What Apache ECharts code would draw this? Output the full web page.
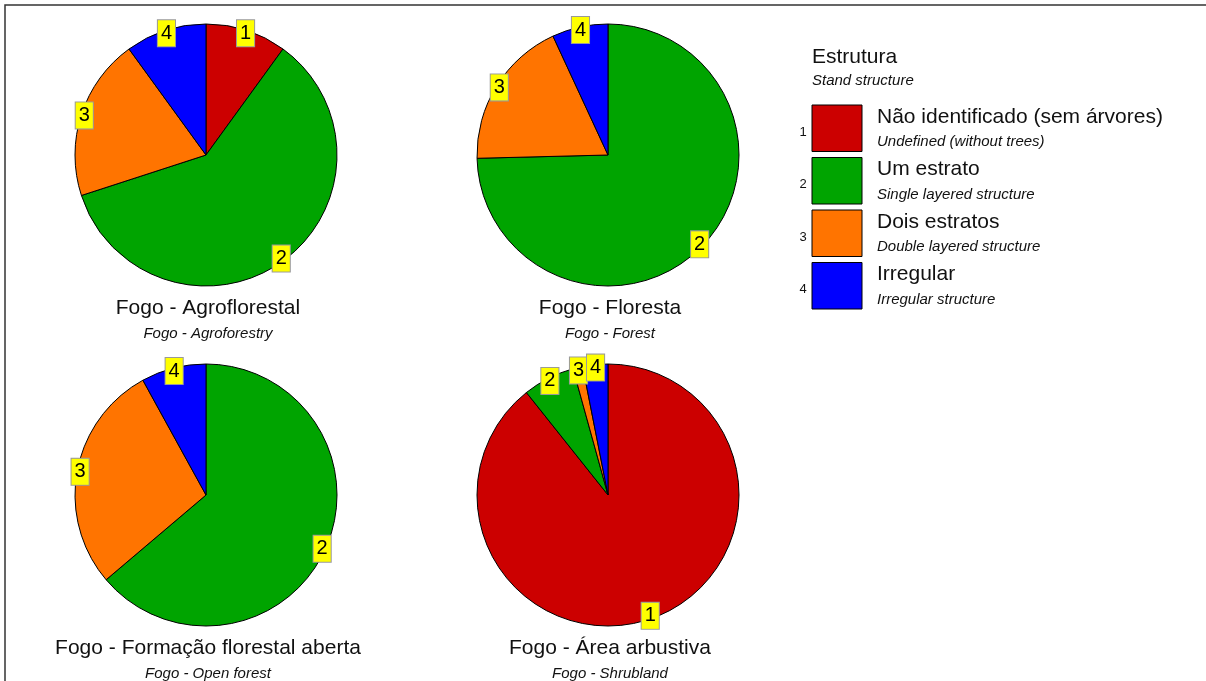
<!DOCTYPE html>
<html>
<head>
<meta charset="utf-8">
<script src="https://cdn.jsdelivr.net/npm/echarts@6/dist/echarts.min.js"></script>
<style>
html,body{margin:0;padding:0;background:#fff;}
#main{width:1206px;height:681px;}
</style>
</head>
<body>
<div id="main"></div>
<script>
// ---- data ----
var categories = ['1', '2', '3', '4'];
var legendNames = ['Não identificado (sem árvores)', 'Um estrato', 'Dois estratos', 'Irregular'];
var legendNamesEn = ['Undefined (without trees)', 'Single layered structure', 'Double layered structure', 'Irregular structure'];
var legendTitle = 'Estrutura';
var legendSubtitle = 'Stand structure';

var pieTitles = ['Fogo - Agroflorestal', 'Fogo - Floresta', 'Fogo - Formação florestal aberta', 'Fogo - Área arbustiva'];
var pieSubtitles = ['Fogo - Agroforestry', 'Fogo - Forest', 'Fogo - Open forest', 'Fogo - Shrubland'];

var agroflorestal = [10.0, 60.0, 20.0, 10.0];
var floresta = [0, 74.6, 18.5, 6.9];
var formacaoAberta = [0, 63.8, 28.2, 8.0];
var areaArbustiva = [89.3, 6.4, 1.2, 3.1];
var pieValues = [agroflorestal, floresta, formacaoAberta, areaArbustiva];

var colors = ['#cc0000', '#00a400', '#ff7400', '#0000ff'];

// ---- layout ----
var centers = [[206, 155], [608, 155], [206, 495], [608, 495]];
var R = 131;
var FONT = '"Liberation Sans", Arial, sans-serif';

function toData(vals) {
  return vals.map(function (v, i) {
    return { name: categories[i], value: v, itemStyle: { color: colors[i] } };
  });
}

var series = [];
pieValues.forEach(function (vals, k) {
  series.push({
    type: 'pie',
    center: centers[k],
    radius: [0, R],
    startAngle: 90,
    clockwise: true,
    silent: true,
    animation: false,
    label: { show: false },
    labelLine: { show: false },
    emphasis: { disabled: true },
    itemStyle: { borderColor: '#000', borderWidth: 1 },
    data: toData(vals)
  });
  series.push({
    type: 'pie',
    center: centers[k],
    radius: [R - 12, R],
    startAngle: 90,
    clockwise: true,
    silent: true,
    animation: false,
    avoidLabelOverlap: false,
    labelLayout: { hideOverlap: false },
    minShowLabelAngle: 1,
    emphasis: { disabled: true },
    itemStyle: { color: 'rgba(0,0,0,0)', borderWidth: 0 },
    label: {
      show: true,
      position: 'inside',
      formatter: '{b}',
      color: '#000',
      fontFamily: FONT,
      fontSize: 20,
      lineHeight: 20,
      backgroundColor: '#ffff00',
      borderColor: '#999999',
      borderWidth: 1,
      padding: [3, 3, 3, 3]
    },
    labelLine: { show: false },
    data: vals.map(function (v, i) { return { name: categories[i], value: v }; })
  });
});

var graphic = [];
// frame
graphic.push({
  type: 'rect', silent: true,
  shape: { x: 5, y: 5, width: 1230, height: 720 },
  style: { fill: 'none', stroke: '#333', lineWidth: 1.5 }
});
// pie titles
pieTitles.forEach(function (t, k) {
  var cx = centers[k][0] + 2;
  var ty = centers[k][1] + 153;
  graphic.push({
    type: 'text', silent: true,
    style: { x: cx, y: ty, text: t, font: '21px ' + FONT, fill: '#111', align: 'center', verticalAlign: 'middle' }
  });
  graphic.push({
    type: 'text', silent: true,
    style: { x: cx, y: ty + 26, text: pieSubtitles[k], font: 'italic 15px ' + FONT, fill: '#111', align: 'center', verticalAlign: 'middle' }
  });
});
// legend
graphic.push({
  type: 'text', silent: true,
  style: { x: 812, y: 57, text: legendTitle, font: '21px ' + FONT, fill: '#111', align: 'left', verticalAlign: 'middle' }
});
graphic.push({
  type: 'text', silent: true,
  style: { x: 812, y: 81, text: legendSubtitle, font: 'italic 15px ' + FONT, fill: '#111', align: 'left', verticalAlign: 'middle' }
});
categories.forEach(function (c, i) {
  var top = 105 + i * 52.5;
  graphic.push({
    type: 'rect', silent: true,
    shape: { x: 812, y: top, width: 50, height: 46.5 },
    style: { fill: colors[i], stroke: '#000', lineWidth: 1 }
  });
  graphic.push({
    type: 'text', silent: true,
    style: { x: 803, y: top + 27, text: c, font: '13px ' + FONT, fill: '#111', align: 'center', verticalAlign: 'middle' }
  });
  graphic.push({
    type: 'text', silent: true,
    style: { x: 877, y: top + 12, text: legendNames[i], font: '21px ' + FONT, fill: '#111', align: 'left', verticalAlign: 'middle' }
  });
  graphic.push({
    type: 'text', silent: true,
    style: { x: 877, y: top + 37, text: legendNamesEn[i], font: 'italic 15px ' + FONT, fill: '#111', align: 'left', verticalAlign: 'middle' }
  });
});

var chart = echarts.init(document.getElementById('main'), null, { renderer: 'canvas' });
chart.setOption({
  backgroundColor: '#ffffff',
  animation: false,
  series: series,
  graphic: graphic
});
</script>
</body>
</html>
